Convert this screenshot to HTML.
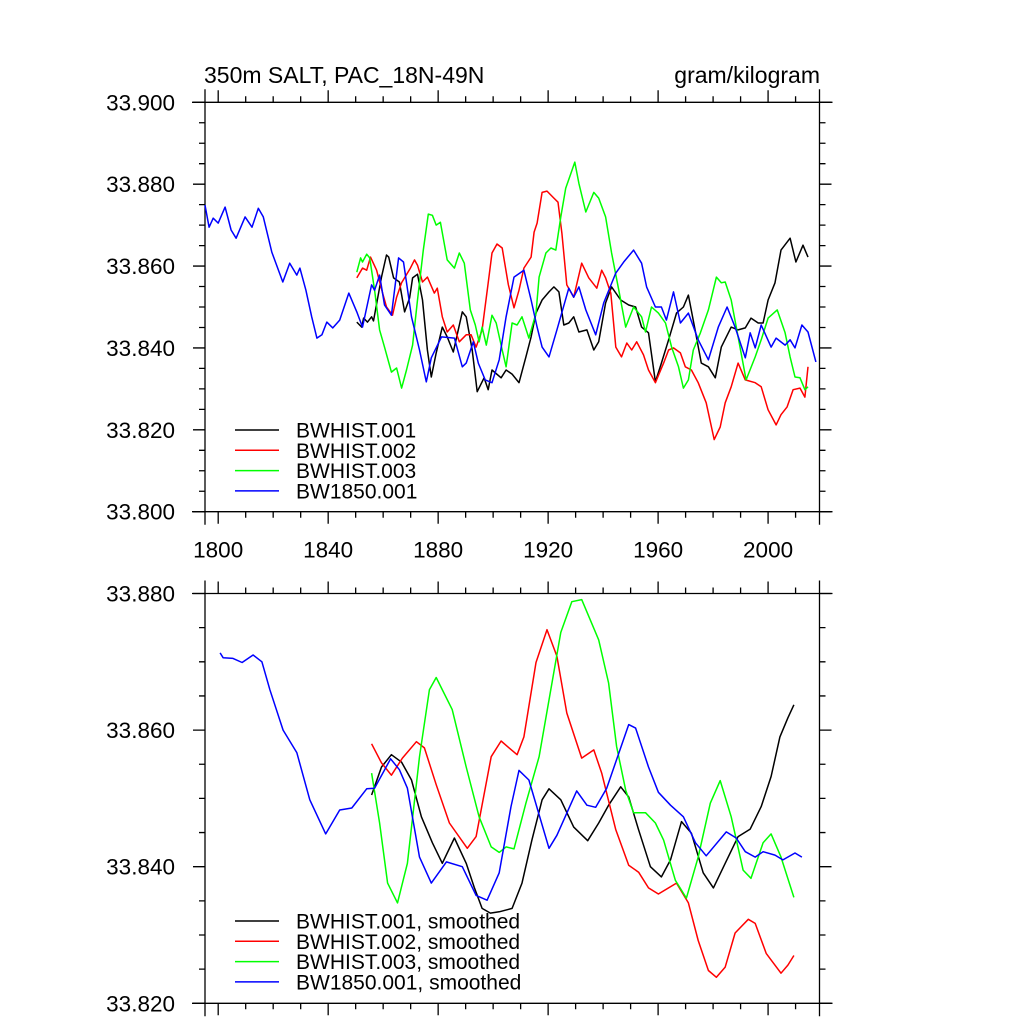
<!DOCTYPE html>
<html><head><meta charset="utf-8"><style>
body{margin:0;background:#fff}
svg{display:block;font-family:"Liberation Sans",sans-serif}
</style></head><body>
<svg id="chart" width="1024" height="1024" viewBox="0 0 1024 1024">
<text x="204" y="83" font-size="23">350m SALT, PAC_18N-49N</text>
<text x="820" y="83" font-size="23" text-anchor="end">gram/kilogram</text>
<g id="g"></g>
</svg>
<script>
// ---- data (year/value pairs) ----
const topB1Yr=[1850.4,1852.2,1852.9,1854.3,1855.8,1856.5,1859.4,1861.2,1862,1863.8,1865.9,1867.8,1869.6,1870.7,1872.5,1874.3,1876.1,1877.5,1879.3,1881.5,1883.3,1885.5,1888.8,1890.2,1892.4,1894.2,1896.7,1898.2,1899.6,1902.9,1904.7,1906.9,1909.4,1911.9,1913.8,1915.6,1917.8,1920.3,1922.1,1923.9,1925.7,1927.5,1929.3,1931.2,1934.1,1936.6,1938.4,1940.9,1943.1,1946.4,1949.3,1951.8,1954,1956.5,1959,1961.2,1963.8,1966.7,1969.2,1971,1973.6,1975.7,1978.3,1980.8,1983,1986.6,1989.1,1991.7,1993.8,1996.4,1998.2,2000,2002.5,2004.7,2008,2010.1,2012.7,2014.5];
const topB1Val=[33.8463,33.8451,33.8473,33.8463,33.8476,33.8466,33.8573,33.8627,33.8622,33.8571,33.8561,33.8488,33.8522,33.8571,33.858,33.8517,33.8395,33.8329,33.8388,33.8451,33.8427,33.839,33.8488,33.8476,33.8395,33.8293,33.8327,33.8298,33.8346,33.8327,33.8346,33.8336,33.8315,33.8378,33.8427,33.8485,33.8517,33.8537,33.8549,33.8537,33.8456,33.8461,33.8476,33.8439,33.8444,33.8395,33.8415,33.851,33.8549,33.8517,33.8505,33.85,33.8451,33.8437,33.8317,33.8363,33.842,33.8485,33.85,33.8529,33.8439,33.8363,33.8354,33.8327,33.8402,33.8451,33.8444,33.8449,33.8473,33.8461,33.8461,33.8517,33.8559,33.8639,33.8668,33.861,33.8651,33.8622];
const topB2Yr=[1850.4,1852.5,1854,1855.4,1857.6,1859.8,1861.2,1863.4,1864.9,1866.7,1869.9,1871.4,1872.5,1874.3,1876.1,1878.6,1879.7,1881.5,1883.3,1885.5,1887.7,1890.2,1892,1893.8,1896,1898.2,1899.6,1901.4,1903.3,1905.5,1907.6,1909.4,1911.2,1913.8,1914.9,1916,1917.8,1919.6,1922.1,1923.6,1925,1926.8,1929.3,1932.2,1934.8,1937.7,1939.5,1940.9,1942.8,1944.6,1946.7,1948.6,1950.4,1952.2,1954.7,1956.5,1959,1962,1963.8,1965.6,1968.1,1969.9,1972.1,1974.6,1977.5,1980.4,1982.6,1984.4,1986.6,1989.1,1991.7,1995.3,1997.5,2000,2002.9,2004.7,2006.9,2009.1,2011.6,2013.4,2014.5];
const topB2Val=[33.8571,33.8595,33.859,33.8622,33.859,33.8534,33.85,33.848,33.8524,33.8559,33.8595,33.8615,33.8602,33.8561,33.8573,33.8534,33.8546,33.8476,33.8439,33.8456,33.8415,33.8432,33.8432,33.8402,33.8444,33.8559,33.8632,33.8654,33.8644,33.8555,33.8498,33.8541,33.8595,33.8622,33.8683,33.8705,33.878,33.8783,33.8766,33.8756,33.868,33.8554,33.8524,33.8607,33.8571,33.8546,33.859,33.8571,33.8534,33.8402,33.8378,33.8412,33.8395,33.8415,33.8383,33.8346,33.8315,33.8363,33.8395,33.84,33.8388,33.8354,33.8346,33.8315,33.8266,33.8176,33.8207,33.8266,33.8305,33.8363,33.8322,33.8315,33.8305,33.8249,33.8212,33.8237,33.8256,33.8298,33.8302,33.828,33.8354];
const topB3Yr=[1850.4,1851.8,1852.5,1854,1855.1,1856.9,1858.7,1860.5,1863,1864.9,1866.7,1868.5,1870.7,1872.5,1874.6,1876.4,1877.9,1879.3,1880.8,1883.3,1885.9,1887.7,1889.5,1891.7,1893.5,1894.9,1896,1897.5,1899.6,1901.1,1903.3,1904.7,1906.9,1908.7,1910.5,1913,1915.6,1916.7,1919.2,1921,1922.8,1924.6,1926.4,1928.3,1929.7,1931.2,1933.7,1936.6,1938.4,1940.9,1943.1,1945.7,1948.2,1951.1,1954,1955.4,1957.6,1960.1,1962.7,1964.9,1967.4,1969.2,1971,1972.8,1975.4,1978.3,1981.2,1983,1984.4,1986.6,1989.1,1992,1995.3,1997.5,2000,2003.3,2006.2,2008,2009.8,2011.6,2013.4,2014.5];
const topB3Val=[33.8585,33.862,33.861,33.8629,33.862,33.8541,33.8444,33.8402,33.8341,33.8351,33.8302,33.8346,33.8407,33.8517,33.8639,33.8727,33.8724,33.87,33.8707,33.8615,33.8595,33.8632,33.8607,33.8493,33.8456,33.8415,33.8451,33.8407,33.848,33.8461,33.8395,33.8354,33.8461,33.8456,33.8476,33.8424,33.8485,33.8573,33.8632,33.8644,33.8639,33.872,33.879,33.8827,33.8854,33.8802,33.8732,33.878,33.8766,33.872,33.8632,33.8541,33.8451,33.85,33.8476,33.8439,33.85,33.8485,33.8461,33.8402,33.8354,33.8302,33.8322,33.8395,33.8437,33.8493,33.8573,33.8559,33.8561,33.8517,33.8427,33.8322,33.8378,33.842,33.8473,33.8493,33.8437,33.8378,33.8329,33.8327,33.8298,33.8305];
const topC1Yr=[1795.2,1796.7,1798.2,1800,1802.5,1804.7,1806.5,1809.8,1812.3,1814.6,1816.4,1819.5,1823.5,1826,1828.6,1829.7,1831.9,1834,1835.9,1837.7,1839.5,1841.7,1844.2,1847.5,1850.4,1852.5,1855.8,1856.9,1858.7,1860.5,1863,1865.6,1867.4,1870.3,1873.2,1875.7,1877.5,1881.2,1885.9,1888.8,1890.2,1892.8,1894.6,1897.1,1899.6,1902.2,1904.7,1907.6,1911.2,1913.8,1916,1917.8,1920.3,1923.2,1927.5,1929.3,1931.2,1933.7,1937.3,1940.2,1944.6,1947.5,1951.1,1954,1955.8,1959,1961.2,1963,1965.6,1968.1,1971,1974.6,1978.3,1981.9,1985.1,1988,1991.7,1993.5,1995.3,1997.5,2001.1,2002.9,2006.2,2008,2009.8,2012.3,2014.5,2017.4];
const topC1Val=[33.8749,33.8695,33.8717,33.8705,33.8744,33.8688,33.8668,33.872,33.8695,33.8741,33.872,33.8634,33.8561,33.8607,33.8578,33.8595,33.8541,33.8476,33.8424,33.8432,33.8463,33.8449,33.8468,33.8534,33.8488,33.8451,33.8554,33.8541,33.8578,33.8505,33.848,33.862,33.861,33.8476,33.8395,33.8317,33.8376,33.8427,33.8424,33.8354,33.8363,33.8415,33.8363,33.8322,33.8315,33.8371,33.8476,33.8573,33.859,33.8517,33.8451,33.8402,33.8378,33.8444,33.8546,33.8524,33.8549,33.8493,33.8432,33.851,33.8583,33.861,33.8639,33.8607,33.8549,33.85,33.85,33.8468,33.8537,33.8461,33.8485,33.842,33.8371,33.8451,33.85,33.8451,33.8376,33.8437,33.84,33.8456,33.8402,33.8424,33.8407,33.842,33.84,33.8456,33.8439,33.8366];
const botB1Yr=[1855.8,1859.4,1863,1866.7,1870.3,1873.9,1877.9,1881.5,1885.9,1890.2,1893.1,1896,1899,1902.2,1906.9,1910.5,1914.1,1917.8,1920.3,1924.6,1929.3,1934.4,1938.4,1942,1946.4,1949.3,1952.9,1957.2,1961.2,1964.5,1968.5,1972.1,1976.4,1980.1,1984.4,1989.1,1993.5,1997.5,2001.1,2004.3,2007.2,2009.4];
const botB1Val=[33.8505,33.8546,33.8564,33.8553,33.8527,33.8473,33.8435,33.8405,33.8442,33.8405,33.837,33.8339,33.8332,33.8334,33.8339,33.8376,33.8439,33.8498,33.8514,33.8498,33.8458,33.8438,33.8464,33.849,33.8517,33.8502,33.8454,33.84,33.8385,33.841,33.8466,33.8449,33.8391,33.8369,33.8405,33.8444,33.8455,33.8488,33.8532,33.859,33.8618,33.8637];
const botB2Yr=[1855.8,1859.4,1863,1867,1872.1,1875,1879.3,1884.1,1890.6,1893.8,1899.3,1902.9,1905.8,1908.7,1911.2,1915.6,1919.6,1923.2,1926.8,1932.2,1936.6,1939.5,1944.6,1949.3,1952.9,1956.5,1960.1,1966.7,1971,1974.6,1978.3,1981.2,1984.4,1988,1992.8,1995.3,1999.3,2004.7,2007.2,2009.4];
const botB2Val=[33.858,33.8552,33.8534,33.8559,33.8583,33.8574,33.852,33.8464,33.8427,33.8444,33.8561,33.8584,33.8574,33.8564,33.859,33.8699,33.8747,33.8708,33.8625,33.8559,33.8571,33.8537,33.8454,33.8402,33.8392,33.8369,33.836,33.8376,33.8347,33.8292,33.8248,33.8238,33.8253,33.8303,33.8323,33.8317,33.8273,33.8244,33.8256,33.827];
const botB3Yr=[1855.8,1858.7,1861.6,1865.2,1868.8,1873.2,1876.8,1879.3,1885.1,1890.2,1894.9,1899.3,1902.2,1904.7,1907.6,1911.9,1916.7,1920.3,1924.6,1928.6,1932.2,1938.4,1942,1944.9,1948.2,1951.1,1955.4,1959,1962,1966.3,1970.3,1974.6,1979,1982.6,1986.6,1990.9,1993.8,1998.2,2001.1,2004.7,2009.4];
const botB3Val=[33.8537,33.8464,33.8376,33.8347,33.8405,33.8561,33.8659,33.8677,33.863,33.8546,33.8473,33.8429,33.8421,33.8429,33.8426,33.8493,33.8561,33.8644,33.8743,33.8788,33.8791,33.8732,33.8669,33.8576,33.8512,33.8479,33.8479,33.8464,33.8439,33.838,33.8354,33.8414,33.8493,33.8526,33.8473,33.8395,33.8383,33.8435,33.8448,33.8414,33.8355];
const botC1Yr=[1800.7,1801.8,1805.4,1808.7,1812.7,1815.9,1818.8,1823.6,1828.6,1833.3,1839.1,1844.2,1848.6,1854,1856.9,1862.7,1865.9,1868.8,1873.2,1877.5,1883,1888.8,1893.8,1897.8,1902.2,1906.5,1909.4,1913,1920.3,1923.2,1930.4,1934.1,1937.3,1941.3,1949.3,1951.8,1956.5,1960.1,1964.5,1969.2,1973.6,1977.5,1984.8,1988.4,1991.7,1995.3,1998.2,2002.5,2005.4,2009.8,2012.3];
const botC1Val=[33.8713,33.8706,33.8705,33.8699,33.871,33.870,33.8659,33.86,33.8567,33.8498,33.8448,33.8483,33.8486,33.8514,33.8515,33.8558,33.8542,33.8515,33.8414,33.8376,33.8407,33.84,33.8358,33.8351,33.8391,33.8488,33.8541,33.8527,33.8427,33.8446,33.8511,33.849,33.8487,33.8515,33.8608,33.8603,33.8546,33.8509,33.849,33.8473,33.8435,33.8416,33.8451,33.8442,33.8422,33.8414,33.8422,33.8417,33.841,33.842,33.8414];
const xTickYears=[1800,1840,1880,1920,1960,2000];
const topYTicks=[33.800,33.820,33.840,33.860,33.880,33.900];
const botYTicks=[33.820,33.840,33.860,33.880];
const legendTop=["BWHIST.001","BWHIST.002","BWHIST.003","BW1850.001"];
const legendBot=["BWHIST.001, smoothed","BWHIST.002, smoothed","BWHIST.003, smoothed","BW1850.001, smoothed"];
const colors=["#000000","#ff0000","#00ff00","#0000ff"];

const NS="http://www.w3.org/2000/svg";
const G=document.getElementById('g');
const X0=205,X1=819.5,YR0=1795.2,YR1=2018.7;
const xs=yr=>X0+(yr-YR0)/(YR1-YR0)*(X1-X0);
function mk(tag,attrs,parent){const e=document.createElementNS(NS,tag);for(const k in attrs)e.setAttribute(k,attrs[k]);(parent||G).appendChild(e);return e;}
function panel(id,T,B,vmin,vmax,yTicks,showXLabels,series,legend,legY){
  const ys=v=>B-(v-vmin)/(vmax-vmin)*(B-T);
  const g=mk('g',{});
  
  
  const ax={stroke:'#000','stroke-width':1.3,fill:'none'};
  const fr=mk('path',Object.assign({d:`M${X0-13},${T}H${X1+13}M${X0-13},${B}H${X1+13}M${X0},${T-13}V${B+13}M${X1},${T-13}V${B+13}`},ax),g);
  
  
  let d='';
  for(let yr=1800;yr<=2010;yr+=10){const x=xs(yr);const L=(yr%40===0)?12:6;d+=`M${x},${T}V${T-L}M${x},${B}V${B+L}`;}
  for(let v=vmin;v<=vmax+1e-9;v+=0.005){const y=ys(v);const maj=Math.abs(Math.round(v*1000)%20)===0;const L=maj?12:6;d+=`M${X0},${y}H${X0-L}M${X1},${y}H${X1+L}`;}
  const tk=mk('path',Object.assign({d},ax),g);
  
  
  yTicks.forEach(v=>{const t=mk('text',{x:175,y:ys(v)+8,'font-size':22.5,'text-anchor':'end'},g);t.textContent=v.toFixed(3);
    
    });
  if(showXLabels) xTickYears.forEach(yr=>{const t=mk('text',{x:xs(yr),y:B+46,'font-size':22.5,'text-anchor':'middle'},g);t.textContent=yr;
    
    });
  series.forEach((s,i)=>{const pts=s[0].map((yr,j)=>xs(yr).toFixed(1)+','+ys(s[1][j]).toFixed(1)).join(' ');
    const p=mk('polyline',{points:pts,fill:'none',stroke:colors[i],'stroke-width':1.5,'stroke-linejoin':'round'},g);
    
    });
  legend.forEach((lab,i)=>{const y=legY+i*20.3;
    const l=mk('line',{x1:235,x2:279,y1:y,y2:y,stroke:colors[i],'stroke-width':1.5},g);
    
    
    const t=mk('text',{x:296,y:y+7.5,'font-size':21},g);t.textContent=lab;
    
    });
}
panel('top',102.3,511.7,33.8,33.9,topYTicks,true,[[topB1Yr,topB1Val],[topB2Yr,topB2Val],[topB3Yr,topB3Val],[topC1Yr,topC1Val]],legendTop,430);
panel('bottom',593.5,1003.3,33.82,33.88,botYTicks,false,[[botB1Yr,botB1Val],[botB2Yr,botB2Val],[botB3Yr,botB3Val],[botC1Yr,botC1Val]],legendBot,921);
</script>
</body></html>
